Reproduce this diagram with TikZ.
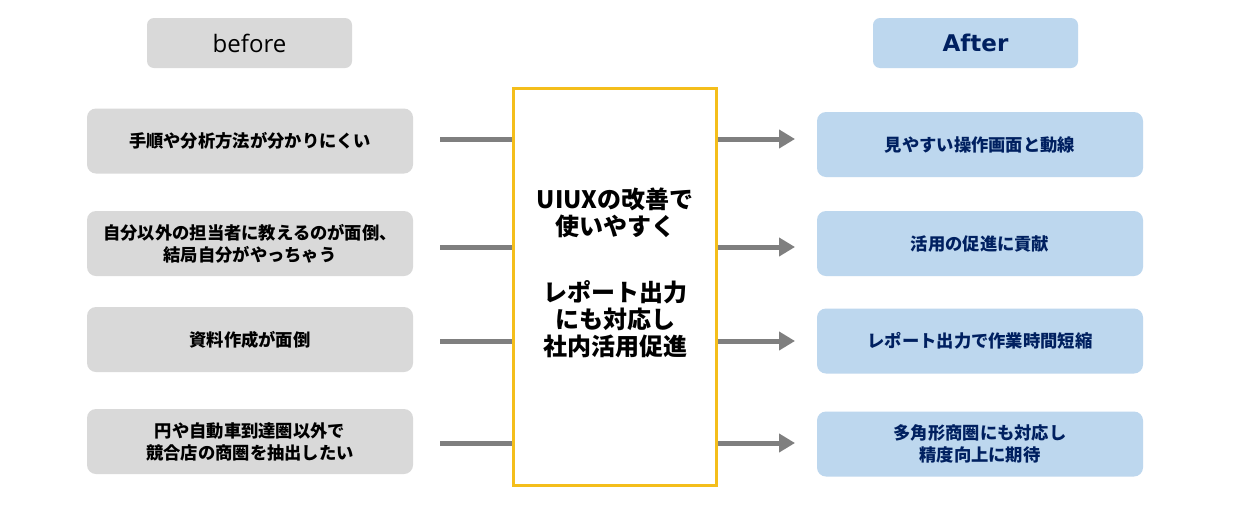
\documentclass[tikz,border=0pt]{standalone}
\usepackage{fontspec}
\setmainfont{Noto Sans CJK JP}
\newfontfamily\beforefont{Open Sans}
\newfontfamily\afterfont{DejaVu Sans}
\usetikzlibrary{arrows.meta}
\definecolor{boxgray}{HTML}{D9D9D9}
\definecolor{boxblue}{HTML}{BDD7EE}
\definecolor{navy}{HTML}{002060}
\definecolor{gold}{HTML}{F4BE1B}
\definecolor{linegray}{HTML}{7F7F7F}
\begin{document}
\begin{tikzpicture}[x=1pt,y=-1pt,
  header/.style={rounded corners=7pt, minimum width=205pt, minimum height=50pt, inner sep=0pt},
  leftbox/.style={fill=boxgray, rounded corners=9pt, minimum width=326pt, minimum height=65pt, inner sep=0pt,
     align=center, font=\fontsize{17.3}{22}\selectfont\bfseries},
  rightbox/.style={fill=boxblue, rounded corners=9pt, minimum width=326pt, minimum height=65pt, inner sep=0pt,
     align=center, text=navy, font=\fontsize{17.3}{22}\selectfont\bfseries},
  centerbox/.style={draw=gold, line width=3pt, fill=white, minimum width=203pt, minimum height=397pt, inner sep=0pt},
  centertext/.style={align=center, inner sep=0pt, font=\fontsize{24}{27}\selectfont\bfseries},
  feed/.style={draw=linegray, line width=5pt},
  outarrow/.style={draw=linegray, line width=5pt, -{Triangle[length=16pt,width=18pt]}}
]
\useasboundingbox (0,0) rectangle (1241,515);
\fill[white] (0,0) rectangle (1241,515);

\node[header, fill=boxgray, font=\beforefont\fontsize{24}{28}\selectfont] (hb) at (249.5,43) {before};
\node[header, fill=boxblue, text=navy, font=\afterfont\bfseries\fontsize{23}{28}\selectfont] (ha) at (975.5,43) {After};

\node[centerbox] (c) at (615,287) {};
\node[centertext] (ct) at (615,273) {UIUXの改善で\\使いやすく\\[39pt]レポート出力\\にも対応し\\社内活用促進};

\node[leftbox] (l1) at (250,141) {手順や分析方法が分かりにくい};
\node[leftbox] (l2) at (250,243.5) {自分以外の担当者に教えるのが面倒、\\結局自分がやっちゃう};
\node[leftbox] (l3) at (250,339.5) {資料作成が面倒};
\node[leftbox] (l4) at (250,441.5) {円や自動車到達圏以外で\\競合店の商圏を抽出したい};

\node[rightbox] (r1) at (980,144.5) {見やすい操作画面と動線};
\node[rightbox] (r2) at (980,243.5) {活用の促進に貢献};
\node[rightbox] (r3) at (980,341) {レポート出力で作業時間短縮};
\node[rightbox] (r4) at (980,444) {多角形商圏にも対応し\\精度向上に期待};

\foreach \i/\y in {1/139,2/247,3/341,4/443}{
  \coordinate (s\i) at (440,\y);
  \coordinate (t\i) at (795,\y);
  \draw[feed] (s\i) -- (s\i -| c.west);
  \draw[outarrow] (t\i -| c.east) -- (t\i);
}
\end{tikzpicture}
\end{document}
